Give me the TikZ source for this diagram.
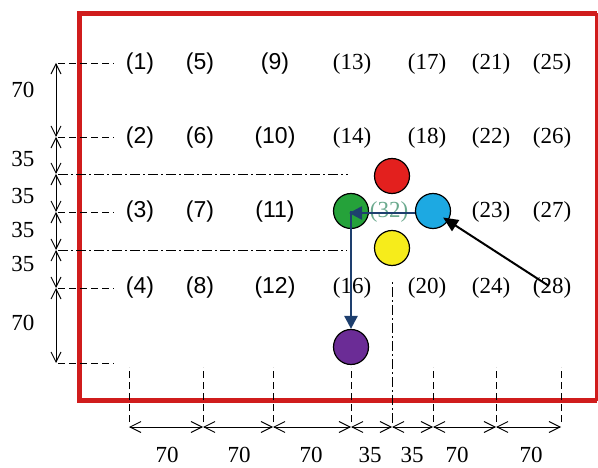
\documentclass[tikz,border=0pt]{standalone}
\usepackage{fontspec}
\setmainfont{Liberation Serif}
\newfontfamily\arialfont{Liberation Sans}
\usepackage{tikz}
\usetikzlibrary{arrows.meta}
\definecolor{FrameRed}{HTML}{D01C1C}
\definecolor{Navy}{HTML}{1E3F6E}
\definecolor{BallRed}{HTML}{E3201E}
\definecolor{BallGreen}{HTML}{25A23A}
\definecolor{BallBlue}{HTML}{1DA9E2}
\definecolor{BallYellow}{HTML}{F6EC1B}
\definecolor{BallPurple}{HTML}{6B2C96}
\definecolor{LabelGreen}{HTML}{6BAA8E}

\tikzset{
  ball/.style={circle, draw=black, line width=1.2pt, minimum size=35pt, inner sep=0pt},
  gridlabel/.style={inner sep=1pt, font=\fontsize{23}{27}\selectfont},
  dimtext/.style={inner sep=1pt, font=\fontsize{23}{27}\selectfont},
  dimline/.style={line width=0.9pt, >={Straight Barb[length=10pt,width=10pt]}, <->},
  leader/.style={line width=0.8pt, dash pattern=on 7pt off 4pt},
  axisline/.style={line width=0.8pt, dash pattern=on 10pt off 3pt on 2pt off 3pt},
  navyarrow/.style={Navy, line width=2.6pt, -{Triangle[length=13pt,width=13pt]}},
  blackarrow/.style={black, line width=2pt, -{Triangle[length=15pt,width=13pt]}}
}

\begin{document}
\begin{tikzpicture}[x=1pt, y=-1pt]
  \useasboundingbox (0,0) rectangle (598,468);

  % frame
  \draw[FrameRed, line width=5pt] (597,13.5) -- (79,13.5) -- (79,400.5) -- (597,400.5);
  \draw[FrameRed, line width=2.5pt] (596.5,13.5) -- (596.5,400.5);

  % grid positions
  \foreach \x [count=\c] in {140,200,275,352,427,491,552}{
    \foreach \y [count=\r] in {64,138,212,288}{
      \pgfmathtruncatemacro{\n}{4*(\c-1)+\r}
      \ifnum\n=15\else\ifnum\n=19\else
        \node[gridlabel] (p\n) at (\x,\y) {\ifnum\c<4 \arialfont\fi(\n)};
      \fi\fi
    }
  }
  \node[gridlabel, LabelGreen] (p32) at (389,212) {(32)};

  % left dimensions
  \foreach \y [count=\i] in {63,137,174,212,250,288,363}
    \coordinate (v\i) at (56,\y);
  \foreach \i [evaluate=\i as \j using int(\i+1)] in {1,...,6}
    \draw[dimline] (v\i) -- (v\j);
  \foreach \i in {1,2,4,6,7}
    \draw[leader] ([xshift=2pt]v\i) -- ++(56,0);
  \draw[axisline] ([xshift=2pt]v3) -- (348,174);
  \draw[axisline] ([xshift=2pt]v5) -- (347,250);
  \foreach \y/\t [count=\i] in {90/70,159/35,196/35,230/35,264/35,323/70}
    \node[dimtext] (dl\i) at (23,\y) {\t};

  % bottom dimensions
  \foreach \x [count=\i] in {129,203,273,351,392,433,496,561}
    \coordinate (h\i) at (\x,427);
  \foreach \i [evaluate=\i as \j using int(\i+1)] in {1,...,7}
    \draw[dimline, >={Straight Barb[length=11pt,width=11pt]}] (h\i) -- (h\j);
  \foreach \i in {1,2,3,4,6,7,8}
    \draw[leader] ([yshift=5pt]h\i) -- ++(0,-55);
  \draw[axisline] ([yshift=4pt]h5) -- (392,280);
  \foreach \x/\t [count=\i] in {167/70,239/70,311/70,370/35,412/35,457/70,531/70}
    \node[dimtext] (dh\i) at (\x,455) {\t};

  % balls
  \node[ball, fill=BallRed] (red) at (392,176) {};
  \node[ball, fill=BallGreen] (green) at (351,211) {};
  \node[ball, fill=BallBlue] (blue) at (433,211) {};
  \node[ball, fill=BallYellow] (yellow) at (392,248) {};
  \node[ball, fill=BallPurple] (purple) at (351,347) {};

  % moves
  \draw[navyarrow, shorten >=-2pt] ([yshift=-2pt]blue.west) -- ([yshift=-2pt]green.center);
  \draw[Navy, line width=2.6pt] ([yshift=-3.3pt]green.center) -- ++(0,3.3pt);
  \draw[navyarrow] ([yshift=-3pt]green.center) -- (purple.north);
  \draw[blackarrow, shorten <=4pt, shorten >=12pt] (p28.center) -- (blue.center);
\end{tikzpicture}
\end{document}
